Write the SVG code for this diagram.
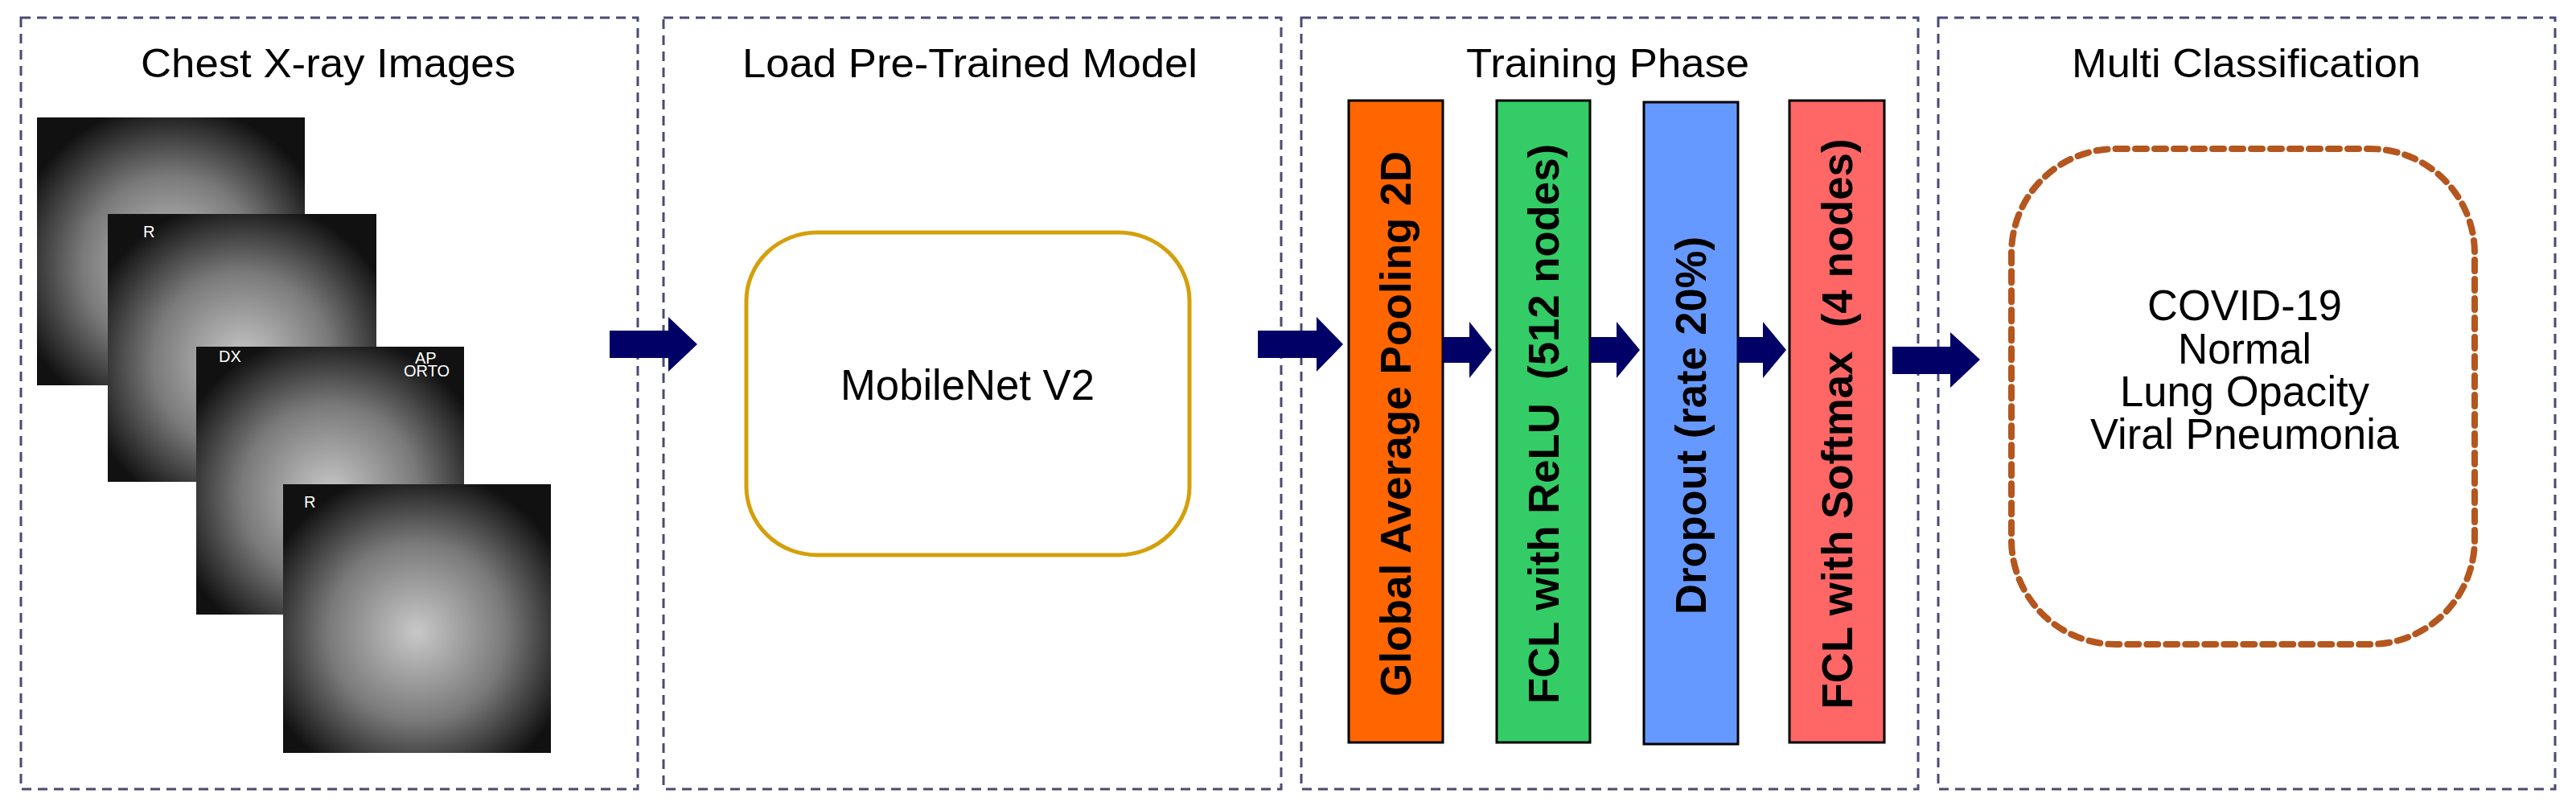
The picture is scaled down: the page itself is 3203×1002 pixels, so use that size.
<svg xmlns="http://www.w3.org/2000/svg" width="3203" height="1002" viewBox="0 0 3203 1002">
<style>
.panel{fill:none;stroke:#4a4a72;stroke-width:3;stroke-dasharray:12 8}
.title{font-family:"Liberation Sans",Arial,sans-serif;font-size:50px;fill:#000;text-anchor:middle}
.lbl{font-family:"Liberation Sans",Arial,sans-serif;font-size:53px;fill:#000;text-anchor:middle}
.bar{stroke:#000;stroke-width:3}
.bt{font-family:"Liberation Sans",Arial,sans-serif;font-weight:bold;font-size:54px;fill:#000;text-anchor:middle;dominant-baseline:central}
.arr{fill:#000066}
.xr{fill:url(#xg)}
.xt{font-family:"Liberation Sans",Arial,sans-serif;font-size:20px;fill:#fff}
</style>
<defs>
<radialGradient id="xg" cx="0.5" cy="0.55" r="0.6">
<stop offset="0" stop-color="#c8c8c8"/>
<stop offset="0.55" stop-color="#7a7a7a"/>
<stop offset="1" stop-color="#111"/>
</radialGradient>
</defs>
<g id="panels">
<rect class="panel" x="26" y="22" width="767" height="959"/>
<rect class="panel" x="825" y="22" width="768" height="959"/>
<rect class="panel" x="1618" y="22" width="767" height="959"/>
<rect class="panel" x="2410" y="22" width="767" height="959"/>
</g>
<g id="titles">
<text class="title" x="408" y="96" textLength="466" lengthAdjust="spacingAndGlyphs">Chest X-ray Images</text>
<text class="title" x="1206" y="96" textLength="566" lengthAdjust="spacingAndGlyphs">Load Pre-Trained Model</text>
<text class="title" x="1999" y="96" textLength="352" lengthAdjust="spacingAndGlyphs">Training Phase</text>
<text class="title" x="2793" y="96" textLength="434" lengthAdjust="spacingAndGlyphs">Multi Classification</text>
</g>
<g id="xrays">
<rect class="xr" x="46" y="146" width="333" height="333"/>
<rect class="xr" x="134" y="266" width="334" height="333"/>
<text class="xt" x="178" y="295">R</text>
<rect class="xr" x="244" y="431" width="333" height="333"/>
<text class="xt" x="272" y="450">DX</text>
<text class="xt" x="516" y="452">AP</text>
<text class="xt" x="502" y="468">ORTO</text>
<rect class="xr" x="352" y="602" width="333" height="334"/>
<text class="xt" x="378" y="631">R</text>
</g>
<g id="mobilenet">
<rect x="928" y="289" width="551" height="401" rx="88" ry="85" fill="#fff" stroke="#D4A00A" stroke-width="5"/>
<text class="lbl" x="1203" y="497" textLength="316" lengthAdjust="spacingAndGlyphs">MobileNet V2</text>
</g>
<g id="gap">
<rect class="bar" x="1677" y="125" width="117" height="798" fill="#FF6600"/>
<text class="bt" transform="translate(1735,527) rotate(-90)" textLength="678" lengthAdjust="spacingAndGlyphs">Global Average Pooling 2D</text>
</g>
<g id="fcl-relu">
<rect class="bar" x="1861" y="125" width="116" height="798" fill="#33CC66"/>
<text class="bt" transform="translate(1919,527) rotate(-90)" textLength="696" lengthAdjust="spacingAndGlyphs" xml:space="preserve">FCL with ReLU  (512 nodes)</text>
</g>
<g id="dropout">
<rect class="bar" x="2044" y="127" width="117" height="798" fill="#6699FF"/>
<text class="bt" transform="translate(2102,529) rotate(-90)" textLength="470" lengthAdjust="spacingAndGlyphs">Dropout (rate 20%)</text>
</g>
<g id="fcl-softmax">
<rect class="bar" x="2225" y="125" width="118" height="798" fill="#FF6666"/>
<text class="bt" transform="translate(2284,527) rotate(-90)" textLength="709" lengthAdjust="spacingAndGlyphs" xml:space="preserve">FCL with Softmax  (4 nodes)</text>
</g>
<g id="classes">
<rect x="2501" y="185" width="576" height="616" rx="130" ry="130" fill="none" stroke="#B5561E" stroke-width="8" stroke-dasharray="14 10" stroke-linecap="round"/>
<text class="lbl" x="2791" y="398" textLength="242" lengthAdjust="spacingAndGlyphs">COVID-19</text>
<text class="lbl" x="2791" y="452" textLength="166" lengthAdjust="spacingAndGlyphs">Normal</text>
<text class="lbl" x="2791" y="505" textLength="310" lengthAdjust="spacingAndGlyphs">Lung Opacity</text>
<text class="lbl" x="2791" y="558" textLength="384" lengthAdjust="spacingAndGlyphs">Viral Pneumonia</text>
</g>
<g id="connectors">
<polygon class="arr" points="758,411 831,411 831,394 867,428 831,462 831,445 758,445"/>
<polygon class="arr" points="1564,411 1637,411 1637,394 1670,428 1637,462 1637,445 1564,445"/>
<polygon class="arr" points="1794,419 1827,419 1827,400 1855,435 1827,470 1827,451 1794,451"/>
<polygon class="arr" points="1977,419 2010,419 2010,400 2039,435 2010,470 2010,451 1977,451"/>
<polygon class="arr" points="2160,419 2192,419 2192,400 2221,435 2192,470 2192,451 2160,451"/>
<polygon class="arr" points="2353,431 2425,431 2425,413 2462,447 2425,482 2425,465 2353,465"/>
</g>
</svg>
